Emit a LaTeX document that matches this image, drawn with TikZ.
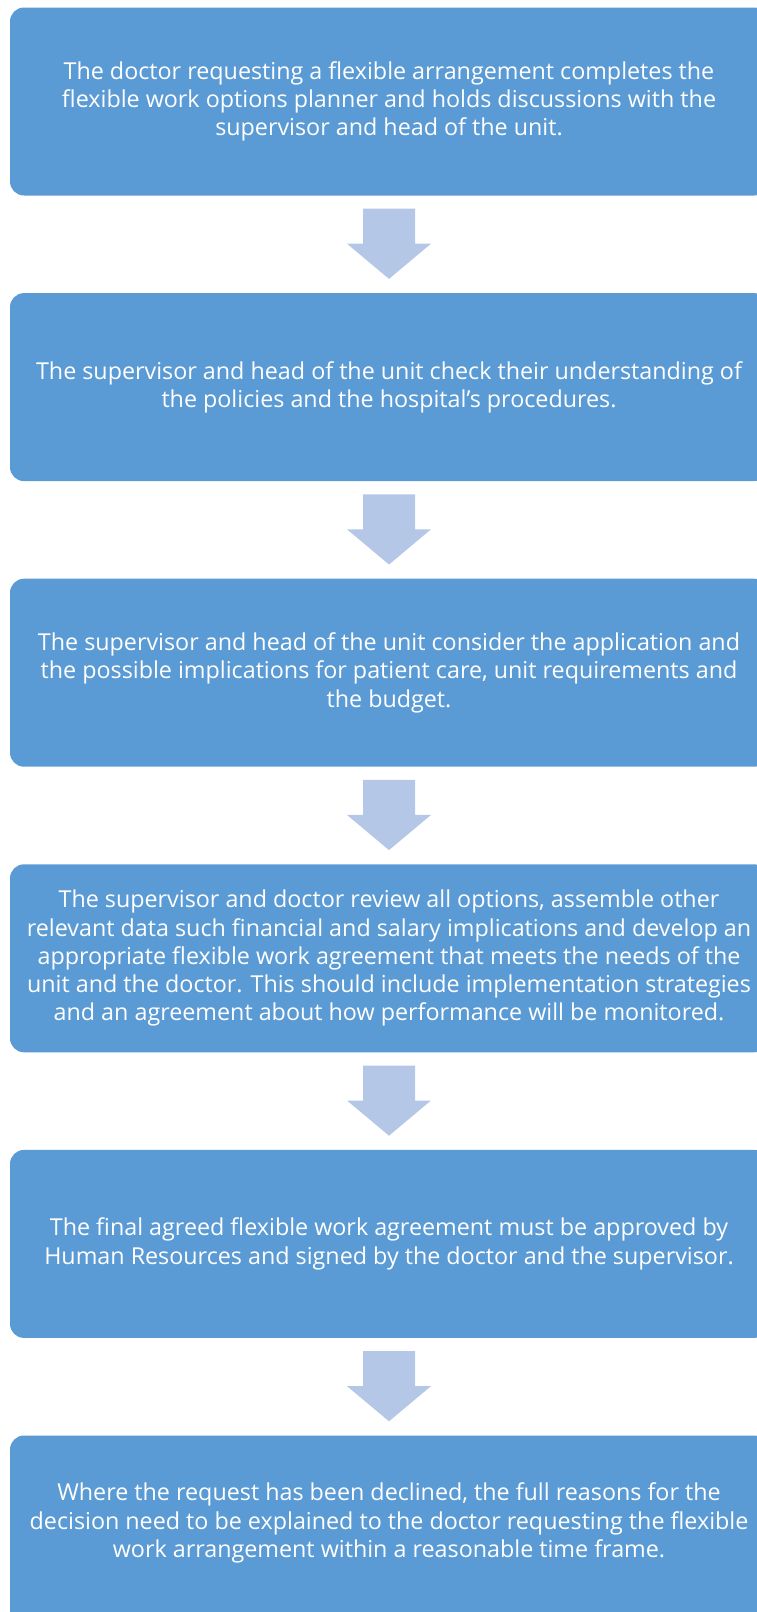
\documentclass[tikz,border=0pt]{standalone}
\usepackage{fontspec}
\setmainfont{Open Sans}
\usetikzlibrary{calc}
\definecolor{stepblue}{HTML}{5B9BD5}
\definecolor{arrowblue}{HTML}{B4C7E7}

\begin{document}
\begin{tikzpicture}[x=1pt,y=-1pt,
  stepbox/.style={rectangle,rounded corners=14pt,fill=stepblue,text=white,
    align=center,inner sep=0pt,minimum width=758pt,minimum height=188pt,
    anchor=north,font=\fontsize{23.3}{28.3}\selectfont},
  blockarrow/.style={fill=arrowblue,draw=none}]
  \useasboundingbox (0,0) rectangle (757,1612);
  \clip (0,0) rectangle (757,1612);

  \node[stepbox] (b1) at (389,7.3) {The doctor requesting a flexible arrangement completes the\\
    flexible work options planner and holds discussions with the\\
    supervisor and head of the unit.};
  \node[stepbox] (b2) at (389,292.9) {The supervisor and head of the unit check their understanding of\\
    the policies and the hospital’s procedures.};
  \node[stepbox] (b3) at (389,578.5) {The supervisor and head of the unit consider the application and\\
    the possible implications for patient care, unit requirements and\\
    the budget.};
  \node[stepbox] (b4) at (389,864.1) {The supervisor and doctor review all options, assemble other\\
    relevant data such financial and salary implications and develop an\\
    appropriate flexible work agreement that meets the needs of the\\
    unit and the doctor. This should include implementation strategies\\
    and an agreement about how performance will be monitored.};
  \node[stepbox] (b5) at (389,1149.7) {The final agreed flexible work agreement must be approved by\\
    Human Resources and signed by the doctor and the supervisor.};
  % last box runs off the page, text sits higher
  \node[stepbox] (b6) at (389,1435.3) {Where the request has been declined, the full reasons for the\\
    decision need to be explained to the doctor requesting the flexible\\
    work arrangement within a reasonable time frame.\\[-10pt]\mbox{}};

  %\draw[step=10pt,gray,very thin] (0,0) grid (757,1612);
  \foreach \i [evaluate=\i as \j using int(\i+1)] in {1,...,5}
    \fill[blockarrow] ($(b\i.south)+(-26,13)$) -- ++(52,0) -- ++(0,35) -- ++(16,0)
      -- ($(b\j.north)+(0,-14)$) -- ($(b\i.south)+(-42,48)$) -- ++(16,0) -- cycle;

\end{tikzpicture}
\end{document}
